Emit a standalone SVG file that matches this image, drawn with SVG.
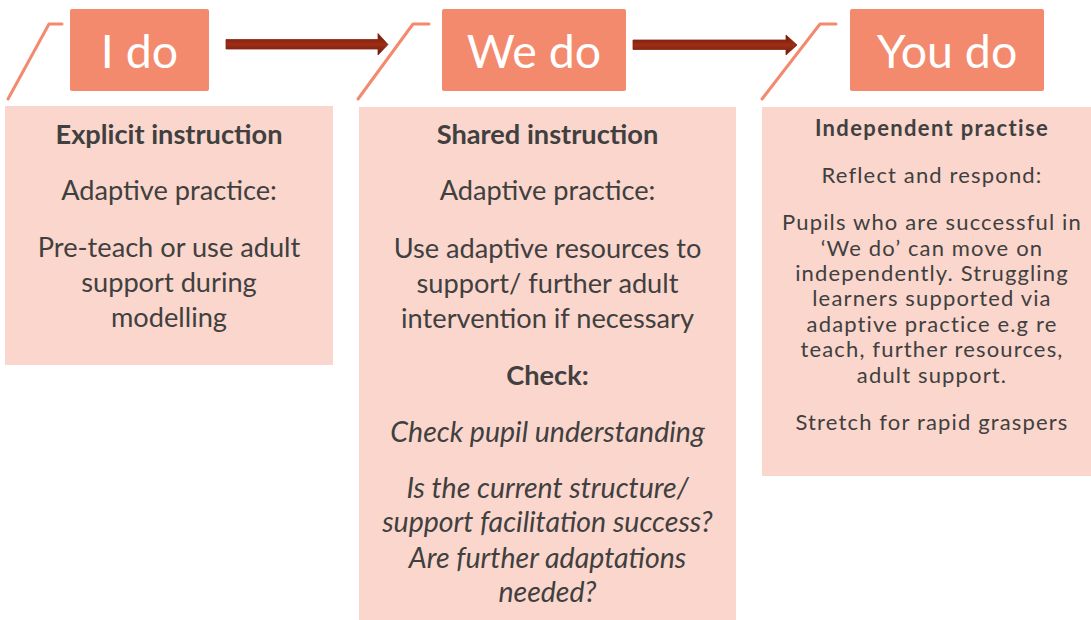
<svg xmlns="http://www.w3.org/2000/svg" width="1091" height="620" viewBox="0 0 1091 620">
  <defs>
    <linearGradient id="arrowFill" x1="0" y1="0" x2="0" y2="1">
      <stop offset="0" stop-color="#6a1906"/>
      <stop offset="0.5" stop-color="#9e2e17"/>
      <stop offset="1" stop-color="#6a1906"/>
    </linearGradient>
    <style>
      .head { fill: #f38a6d; }
      .headText { font-family: Lato, "Liberation Sans", sans-serif; font-weight: 400; font-size: 46.5px; fill: #ffffff; text-anchor: middle; }
      .panel { fill: #fbd6cc; }
      .slant { fill: none; stroke: #f38a6d; stroke-width: 3; stroke-linecap: round; stroke-linejoin: round; }
      .t { font-family: Lato, "Liberation Sans", sans-serif; fill: #404040; text-anchor: middle; font-size: 27.2px; }
      .i { font-style: italic; font-size: 28.5px; }
      .s { font-size: 22px; letter-spacing: 1.15px; }
      .b { font-weight: bold; }
      .s.b { letter-spacing: 1.35px; }
      .arrow { fill: url(#arrowFill); stroke: #862713; stroke-width: 0.8; }
    </style>
  </defs>

  <!-- Stage 1 -->
  <g id="stage-i-do">
    <polyline class="slant" points="8,99 49,24 62,24"/>
    <rect class="head" x="70" y="9" width="139" height="82" rx="2"/>
    <text class="headText" x="139.5" y="68">I do</text>
    <rect class="panel" x="5" y="106" width="328" height="259"/>
    <text class="t b" x="169" y="144">Explicit instruction</text>
    <text class="t" x="169" y="200">Adaptive practice:</text>
    <text class="t" x="169" y="257">Pre-teach or use adult</text>
    <text class="t" x="169" y="292">support during</text>
    <text class="t" x="169" y="327">modelling</text>
  </g>

  <!-- Stage 2 -->
  <g id="stage-we-do">
    <polyline class="slant" points="358,99 413,24 429,24"/>
    <rect class="head" x="442" y="9" width="184" height="82" rx="2"/>
    <text class="headText" x="534" y="68">We do</text>
    <rect class="panel" x="359" y="107" width="377" height="513"/>
    <text class="t b" x="547.5" y="144">Shared instruction</text>
    <text class="t" x="547.5" y="200">Adaptive practice:</text>
    <text class="t" x="547.5" y="258">Use adaptive resources to</text>
    <text class="t" x="547.5" y="293">support/ further adult</text>
    <text class="t" x="547.5" y="328">intervention if necessary</text>
    <text class="t b" x="547.5" y="385">Check:</text>
    <text class="t i" x="547.5" y="442">Check pupil understanding</text>
    <text class="t i" x="547.5" y="498">Is the current structure/</text>
    <text class="t i" x="547.5" y="532">support facilitation success?</text>
    <text class="t i" x="547.5" y="568">Are further adaptations</text>
    <text class="t i" x="547.5" y="602">needed?</text>
  </g>

  <!-- Stage 3 -->
  <g id="stage-you-do">
    <polyline class="slant" points="762,99 820,24 836,24"/>
    <rect class="head" x="850" y="9" width="194" height="82" rx="2"/>
    <text class="headText" x="947" y="68">You do</text>
    <rect class="panel" x="762" y="107" width="329" height="369"/>
    <text class="t s b" x="932" y="136">Independent practise</text>
    <text class="t s" x="932" y="183">Reflect and respond:</text>
    <text class="t s" x="932" y="230">Pupils who are successful in</text>
    <text class="t s" x="932" y="256">‘We do’ can move on</text>
    <text class="t s" x="932" y="281">independently. Struggling</text>
    <text class="t s" x="932" y="306">learners supported via</text>
    <text class="t s" x="932" y="332">adaptive practice e.g re</text>
    <text class="t s" x="932" y="357">teach, further resources,</text>
    <text class="t s" x="932" y="383">adult support.</text>
    <text class="t s" x="932" y="430">Stretch for rapid graspers</text>
  </g>

  <!-- Connectors -->
  <g id="connectors">
    <path class="arrow" d="M226,39.5 H378 V33.5 L388,44.5 L378,55 V49 H226 Z"/>
    <path class="arrow" d="M633,40 H786 V35 L797,45 L786,55 V49.5 H633 Z"/>
  </g>
</svg>
